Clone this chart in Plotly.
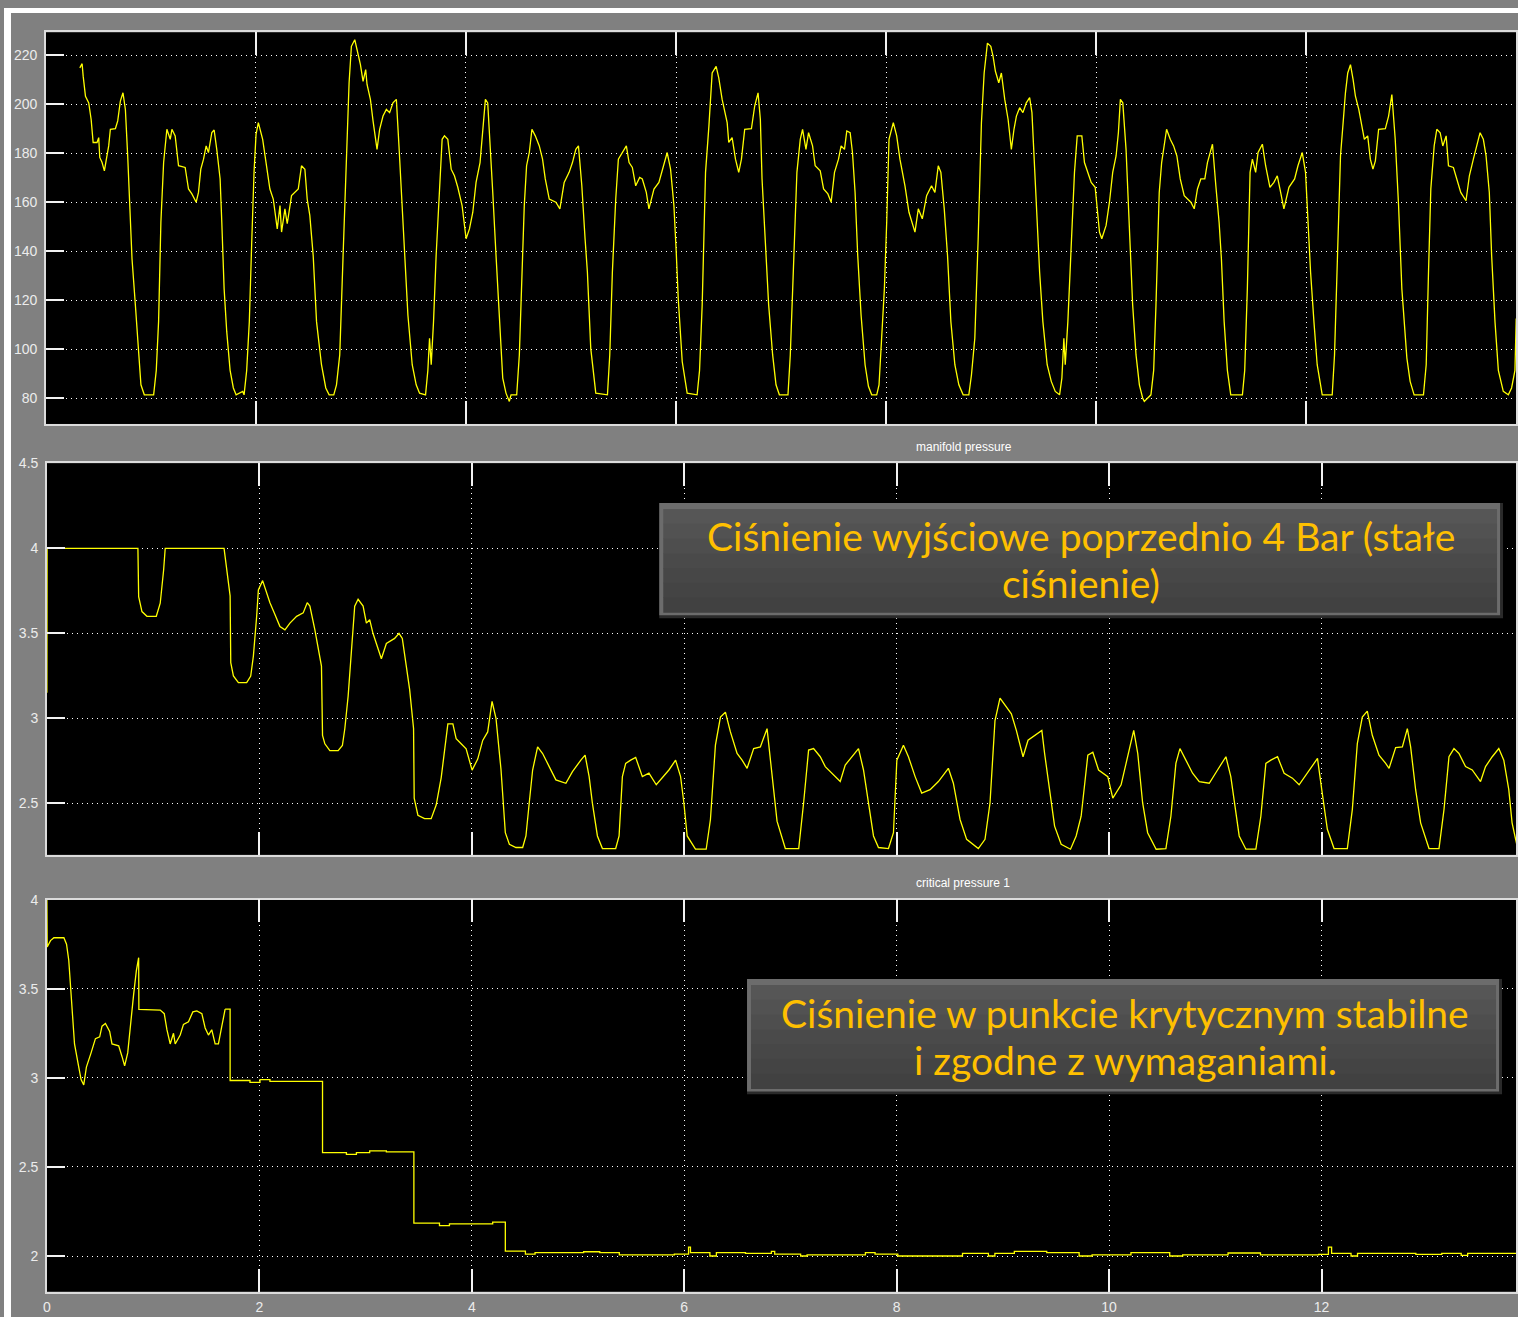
import plotly.graph_objects as go

W, H = 1518, 1317

# ---------------- data: panel 1 (top, unnamed scope signal) ----------------
top_t = [
    0.323, 0.345, 0.355, 0.377, 0.408, 0.431, 0.450, 0.487, 0.503, 0.513, 0.535, 0.557, 0.576, 0.598, 0.614, 0.662, 0.684, 0.709, 0.734, 0.757, 0.779, 0.804, 0.820, 0.852, 0.883, 0.905, 0.937, 1.026, 1.051, 1.073,
    1.095, 1.121, 1.152, 1.184, 1.200, 1.231, 1.263, 1.326, 1.358, 1.390, 1.431, 1.453, 1.475, 1.501, 1.526, 1.548, 1.580, 1.602, 1.627, 1.659, 1.675, 1.697, 1.722, 1.754, 1.785, 1.811, 1.874, 1.887, 1.912, 1.937,
    1.959, 1.982, 2.001, 2.023, 2.064, 2.102, 2.133, 2.165, 2.191, 2.203, 2.229, 2.244, 2.276, 2.298, 2.339, 2.371, 2.403, 2.434, 2.466, 2.488, 2.513, 2.545, 2.577, 2.624, 2.665, 2.697, 2.741, 2.767, 2.798, 2.830,
    2.862, 2.887, 2.909, 2.941, 2.963, 2.995, 3.020, 3.045, 3.058, 3.090, 3.115, 3.140, 3.153, 3.178, 3.210, 3.242, 3.273, 3.305, 3.337, 3.362, 3.393, 3.416, 3.447, 3.488, 3.526, 3.558, 3.615, 3.637, 3.653, 3.669,
    3.691, 3.716, 3.748, 3.773, 3.795, 3.827, 3.859, 3.890, 3.922, 3.963, 4.001, 4.033, 4.065, 4.096, 4.134, 4.160, 4.185, 4.207, 4.229, 4.255, 4.286, 4.318, 4.350,
    4.381, 4.413, 4.429, 4.483, 4.508, 4.533, 4.555, 4.577, 4.603, 4.628, 4.660, 4.698, 4.729, 4.755, 4.793, 4.856, 4.894, 4.935, 4.982, 5.014, 5.046, 5.071, 5.103, 5.134, 5.156, 5.188, 5.236, 5.347, 5.369, 5.394,
    5.426, 5.451, 5.489, 5.527, 5.553, 5.584, 5.616, 5.654, 5.679, 5.717, 5.742, 5.790, 5.837, 5.875, 5.916, 5.948, 5.980, 6.002, 6.021, 6.059, 6.106, 6.201, 6.224, 6.249, 6.281, 6.313, 6.344, 6.382, 6.407, 6.439,
    6.487, 6.502, 6.534, 6.566, 6.597, 6.623, 6.654, 6.718, 6.749, 6.781, 6.803, 6.819, 6.851, 6.882, 6.920, 6.952, 6.984, 7.066, 7.088, 7.120, 7.151, 7.183, 7.205, 7.237, 7.262, 7.300, 7.325, 7.373, 7.405, 7.446,
    7.477, 7.509, 7.547, 7.572, 7.604, 7.626, 7.658, 7.680, 7.705, 7.730, 7.762, 7.800, 7.832, 7.863, 7.911, 7.933, 7.959, 7.984, 8.006, 8.028, 8.069, 8.101, 8.132, 8.180, 8.218, 8.250, 8.275, 8.307, 8.345, 8.386,
    8.433, 8.465, 8.497, 8.522, 8.554, 8.585, 8.617, 8.655, 8.693, 8.734, 8.788, 8.813, 8.845, 8.877, 8.908, 8.934, 8.965, 8.997, 9.019, 9.041, 9.073, 9.098, 9.130, 9.162, 9.193,
    9.218, 9.241, 9.272, 9.303, 9.335, 9.367, 9.389, 9.408, 9.430, 9.462, 9.493, 9.534, 9.573, 9.611, 9.652, 9.674, 9.693, 9.706, 9.731, 9.763, 9.794, 9.820, 9.864, 9.889, 9.921, 9.953, 9.991, 10.010, 10.032, 10.054,
    10.095, 10.127, 10.158, 10.190, 10.212, 10.231, 10.254, 10.285, 10.317, 10.348, 10.380, 10.412, 10.443, 10.459, 10.522, 10.548, 10.570, 10.601, 10.624, 10.649, 10.671, 10.706, 10.738, 10.769, 10.801, 10.839, 10.902, 10.934, 10.965, 10.997,
    11.035, 11.060, 11.086, 11.108, 11.140, 11.171, 11.193, 11.219, 11.250, 11.282, 11.393, 11.415, 11.440, 11.466, 11.488, 11.519, 11.542, 11.583, 11.614, 11.655, 11.693, 11.725, 11.757, 11.788, 11.836, 11.890, 11.922, 11.963, 11.994, 12.017,
    12.042, 12.074, 12.105, 12.153, 12.248, 12.270, 12.295, 12.327, 12.352, 12.374, 12.396, 12.422, 12.447, 12.469, 12.501, 12.532, 12.554, 12.586, 12.611, 12.636, 12.659, 12.690, 12.754, 12.785, 12.816, 12.848, 12.880, 12.911, 12.959, 12.990,
    13.028, 13.117, 13.143, 13.165, 13.187, 13.219, 13.244, 13.276, 13.301, 13.333, 13.355, 13.402, 13.434, 13.472, 13.522, 13.554, 13.592, 13.624, 13.656, 13.687, 13.713, 13.744, 13.766, 13.798, 13.830, 13.877, 13.925, 13.956, 13.988, 14.0,
]
top_v = [
    214.9, 216.6, 211.5, 203.3, 200.6, 193.8, 184.4, 184.4, 186.4, 178.3, 176.2, 172.8, 177.6, 183.0, 189.8, 190.1, 193.2, 201.3, 204.7, 197.9, 178.9, 155.9, 136.9, 118.0, 97.6, 85.4, 81.3, 81.3, 91.3, 111.2,
    151.8, 176.2, 189.8, 185.7, 189.8, 187.1, 174.9, 174.2, 165.4, 163.4, 160.0, 164.0, 173.5, 177.6, 183.0, 180.3, 188.5, 189.5, 181.6, 169.5, 151.8, 124.7, 107.1, 91.3, 84.1, 81.3, 82.7, 81.3, 91.3, 111.2,
    142.3, 172.2, 187.7, 192.5, 185.7, 173.5, 165.4, 161.3, 153.2, 149.1, 158.6, 147.8, 157.3, 151.2, 162.7, 164.0, 165.4, 174.9, 173.5, 161.3, 154.6, 138.3, 111.2, 93.6, 84.1, 81.3, 81.3, 85.4, 97.6, 138.3,
    178.9, 208.8, 223.7, 226.4, 222.3, 216.2, 209.4, 214.2, 208.1, 202.0, 193.2, 185.7, 181.6, 189.8, 195.2, 197.9, 196.6, 200.6, 202.0, 183.0, 158.6, 136.9, 113.9, 93.6, 85.4, 82.0, 81.3, 91.3, 104.4, 93.6,
    111.2, 138.3, 165.4, 185.7, 187.1, 185.7, 173.5, 170.8, 166.1, 158.6, 145.1, 149.1, 155.9, 168.1, 176.2, 188.4, 202.0, 200.6, 185.7, 164.0, 138.3, 111.2, 88.1,
    82.0, 78.6, 81.3, 81.3, 97.6, 131.5, 158.6, 174.9, 180.3, 189.8, 187.1, 183.0, 177.6, 169.5, 161.3, 160.0, 157.3, 168.1, 172.2, 176.2, 181.6, 183.0, 166.7, 145.1, 131.5, 100.3, 82.0, 81.3, 97.6, 131.5,
    161.3, 177.6, 180.3, 183.0, 176.2, 174.2, 166.7, 170.1, 169.5, 164.0, 157.3, 165.4, 168.1, 173.5, 180.3, 173.5, 158.6, 139.6, 120.7, 94.9, 82.0, 81.3, 91.3, 118.0, 172.2, 191.1, 212.8, 215.5, 210.8, 202.0,
    192.5, 184.4, 186.4, 177.6, 172.2, 177.6, 189.8, 190.1, 199.3, 204.7, 193.8, 169.5, 145.1, 118.0, 97.6, 85.4, 81.3, 81.3, 97.6, 138.3, 172.2, 185.7, 189.8, 181.6, 188.4, 183.0, 174.9, 172.8, 165.4, 163.4,
    160.0, 172.2, 177.6, 183.0, 181.6, 189.1, 188.4, 180.3, 164.0, 138.3, 113.9, 93.6, 84.8, 81.3, 81.3, 85.4, 104.4, 124.7, 151.8, 185.7, 192.5, 187.1, 177.6, 166.7, 155.9, 151.8, 147.8, 157.3, 153.2, 162.7,
    166.7, 164.0, 174.9, 172.2, 157.3, 138.3, 111.2, 93.6, 85.4, 81.3, 81.3, 89.4, 104.4, 145.1, 192.5, 212.8, 225.0, 223.7, 219.6, 213.5, 208.8, 212.8, 202.0, 193.8, 181.6,
    189.8, 195.2, 198.6, 196.6, 200.6, 202.7, 196.6, 178.9, 158.6, 131.5, 111.2, 93.6, 86.8, 82.7, 81.3, 88.1, 104.4, 93.6, 111.2, 142.3, 172.2, 187.1, 187.1, 176.2, 172.2, 168.1, 166.1, 158.6, 147.8, 145.1,
    150.5, 160.0, 172.2, 178.9, 188.4, 202.0, 200.6, 181.6, 151.8, 118.0, 97.6, 85.4, 80.0, 78.6, 81.3, 91.3, 118.0, 164.0, 176.2, 183.0, 189.8, 185.7, 183.0, 178.9, 169.5, 162.7, 160.0, 157.3, 165.4, 169.5,
    169.5, 176.2, 180.3, 183.7, 166.7, 151.8, 136.9, 111.2, 91.3, 81.3, 81.3, 91.3, 124.7, 172.2, 177.6, 172.2, 180.3, 183.7, 174.9, 166.1, 168.1, 170.8, 164.0, 157.3, 166.1, 169.5, 174.9, 180.3, 172.2, 151.8,
    131.5, 111.2, 93.6, 81.3, 81.3, 97.6, 138.3, 178.9, 192.5, 204.7, 212.8, 216.2, 210.1, 203.3, 197.9, 191.1, 185.7, 187.1, 177.6, 173.5, 176.9, 189.8, 190.1, 195.2, 204.0, 185.7, 158.6, 124.7, 96.3, 86.8,
    81.3, 81.3, 93.6, 131.5, 165.4, 183.0, 189.8, 188.4, 183.0, 187.1, 174.9, 174.2, 169.5, 164.0, 160.6, 170.8, 177.6, 183.0, 188.4, 185.7, 178.9, 164.0, 138.3, 111.2, 91.3, 82.7, 81.3, 84.1, 91.3, 112.5,
]

# ---------------- data: panel 2 (manifold pressure) ----------------
mp_t = [
    0.0, 0.002, 0.857, 0.864, 0.895, 0.942, 1.030, 1.067, 1.099, 1.114,
    1.668, 1.693, 1.725, 1.731, 1.756, 1.803, 1.881, 1.919, 1.944, 1.975,
    1.991, 2.031, 2.069, 2.100, 2.147, 2.194, 2.241, 2.288, 2.351, 2.413,
    2.451, 2.476, 2.523, 2.554, 2.585, 2.595, 2.617, 2.664, 2.742, 2.782,
    2.805, 2.836, 2.867, 2.898, 2.930, 2.977, 3.008, 3.039, 3.070, 3.117,
    3.149, 3.196, 3.243, 3.274, 3.315, 3.346, 3.383, 3.415, 3.452, 3.458,
    3.493, 3.556, 3.618, 3.665, 3.712, 3.775, 3.822, 3.853, 3.900, 3.947,
    4.003, 4.056, 4.103, 4.150, 4.191, 4.228, 4.275, 4.316, 4.354, 4.416,
    4.479, 4.510, 4.541, 4.573, 4.620, 4.667, 4.729, 4.792, 4.886, 4.948,
    5.027, 5.067, 5.105, 5.136, 5.183, 5.230, 5.355, 5.387, 5.418, 5.449,
    5.496, 5.543, 5.606, 5.668, 5.737, 5.794, 5.856, 5.919, 5.966, 5.997,
    6.028, 6.106, 6.207, 6.247, 6.294, 6.341, 6.388, 6.435, 6.498, 6.545,
    6.592, 6.654, 6.717, 6.780, 6.827, 6.874, 6.952, 7.078, 7.124, 7.171,
    7.218, 7.281, 7.328, 7.390, 7.469, 7.516, 7.563, 7.641, 7.688, 7.735,
    7.782, 7.829, 7.923, 7.970, 8.002, 8.064, 8.111, 8.174, 8.236, 8.315,
    8.393, 8.487, 8.534, 8.597, 8.659, 8.769, 8.832, 8.879, 8.926, 8.973,
    9.020, 9.080, 9.127, 9.190, 9.237, 9.299, 9.367, 9.393, 9.440, 9.487,
    9.549, 9.637, 9.690, 9.737, 9.800, 9.847, 9.901, 9.988, 10.035, 10.113,
    10.160, 10.232, 10.270, 10.316, 10.363, 10.443, 10.535, 10.582, 10.629, 10.667,
    10.723, 10.786, 10.849, 10.943, 11.021, 11.100, 11.146, 11.178, 11.225, 11.288,
    11.382, 11.429, 11.476, 11.523, 11.586, 11.648, 11.726, 11.789, 11.883, 11.962,
    12.009, 12.055, 12.118, 12.243, 12.290, 12.337, 12.384, 12.431, 12.478, 12.541,
    12.604, 12.636, 12.698, 12.761, 12.808, 12.839, 12.886, 12.933, 13.012, 13.106,
    13.153, 13.200, 13.247, 13.294, 13.356, 13.419, 13.497, 13.544, 13.607, 13.669,
    13.716, 13.763, 13.794, 13.841,
]
mp_v = [
    3.15, 4.0, 4.0, 3.716, 3.628, 3.60, 3.60, 3.677, 3.872, 4.0,
    4.0, 3.87, 3.72, 3.327, 3.249, 3.21, 3.21, 3.249, 3.366, 3.60,
    3.755, 3.81, 3.73, 3.68, 3.61, 3.54, 3.52, 3.56, 3.60, 3.62,
    3.68, 3.66, 3.52, 3.424, 3.307, 2.90, 2.85, 2.81, 2.81, 2.84,
    2.94, 3.13, 3.42, 3.66, 3.70, 3.66, 3.56, 3.58, 3.50, 3.405,
    3.35, 3.44, 3.46, 3.47, 3.50, 3.47, 3.31, 3.17, 2.94, 2.53,
    2.43, 2.41, 2.41, 2.49, 2.65, 2.967, 2.967, 2.88, 2.85, 2.82,
    2.695, 2.76, 2.87, 2.92, 3.10, 3.0, 2.70, 2.327, 2.259, 2.24,
    2.24, 2.308, 2.502, 2.696, 2.832, 2.793, 2.716, 2.638, 2.618, 2.686,
    2.754, 2.783, 2.657, 2.50, 2.308, 2.234, 2.234, 2.308, 2.657, 2.735,
    2.754, 2.77, 2.657, 2.677, 2.609, 2.648, 2.696, 2.754, 2.657, 2.502,
    2.308, 2.23, 2.23, 2.405, 2.842, 3.007, 3.036, 2.92, 2.793, 2.754,
    2.706, 2.822, 2.832, 2.939, 2.657, 2.395, 2.234, 2.234, 2.502, 2.813,
    2.822, 2.774, 2.716, 2.677, 2.628, 2.725, 2.764, 2.822, 2.696, 2.502,
    2.308, 2.24, 2.234, 2.327, 2.754, 2.842, 2.774, 2.657, 2.56, 2.58,
    2.628, 2.706, 2.618, 2.405, 2.288, 2.234, 2.288, 2.502, 2.987, 3.119,
    3.075, 3.026, 2.929, 2.774, 2.871, 2.90, 2.929, 2.793, 2.58, 2.366,
    2.259, 2.23, 2.308, 2.424, 2.783, 2.80, 2.696, 2.657, 2.531, 2.609,
    2.735, 2.929, 2.793, 2.502, 2.327, 2.23, 2.234, 2.424, 2.735, 2.822,
    2.754, 2.677, 2.628, 2.618, 2.696, 2.774, 2.657, 2.502, 2.308, 2.23,
    2.23, 2.424, 2.735, 2.754, 2.774, 2.677, 2.648, 2.609, 2.696, 2.764,
    2.55, 2.347, 2.234, 2.234, 2.463, 2.851, 3.007, 3.042, 2.90, 2.783,
    2.735, 2.706, 2.828, 2.832, 2.939, 2.832, 2.58, 2.385, 2.234, 2.234,
    2.463, 2.774, 2.822, 2.793, 2.716, 2.696, 2.628, 2.716, 2.774, 2.822,
    2.754, 2.58, 2.385, 2.25,
]

# ---------------- data: panel 3 (critical pressure 1) ----------------
cp_t = [
    0.0, 0.003, 0.034, 0.066, 0.160, 0.185, 0.206, 0.238, 0.260, 0.300,
    0.322, 0.347, 0.372, 0.416, 0.457, 0.497, 0.519, 0.551, 0.591, 0.613,
    0.676, 0.707, 0.732, 0.761, 0.786, 0.817, 0.842, 0.864, 0.866, 0.973,
    1.067, 1.105, 1.130, 1.161, 1.192, 1.208, 1.255, 1.286, 1.333, 1.374,
    1.412, 1.459, 1.490, 1.521, 1.552, 1.584, 1.615, 1.646, 1.678,
]
cp_v = [
    4.0, 3.734, 3.77, 3.786, 3.786, 3.75, 3.66, 3.40, 3.19, 3.06,
    2.99, 2.96, 3.06, 3.14, 3.22, 3.23, 3.29, 3.305, 3.26, 3.19,
    3.18, 3.12, 3.067, 3.14, 3.305, 3.47, 3.60, 3.674, 3.384, 3.384,
    3.38, 3.36, 3.27, 3.19, 3.25, 3.19, 3.24, 3.30, 3.315, 3.37,
    3.376, 3.36, 3.28, 3.24, 3.27, 3.19, 3.19, 3.287, 3.385,
]
# stepped part (level start times and levels)
cp_step_t = [
    1.678, 1.725, 1.912, 2.006, 2.100, 2.595, 2.820, 2.914, 3.039, 3.196,
    3.455, 3.696, 3.790, 4.197, 4.316, 4.505, 4.596, 5.053, 5.205, 5.389,
    5.907, 6.041, 6.059, 6.242, 6.303, 6.577, 6.821, 6.852, 7.096, 7.157,
    7.706, 7.797, 8.011, 8.620, 8.864, 8.925, 9.108, 9.413, 9.718, 9.840,
    10.206, 10.571, 10.693, 11.120, 11.425, 11.974, 12.065, 12.095, 12.278, 12.339,
    12.888, 13.132, 13.315, 13.376, 13.851,
]
cp_step_v = [
    3.385, 2.985, 2.974, 2.99, 2.98, 2.58, 2.57, 2.58, 2.59, 2.585,
    2.185, 2.17, 2.18, 2.19, 2.028, 2.011, 2.019, 2.024, 2.019, 2.006,
    2.011, 2.05, 2.019, 2.0, 2.019, 2.015, 2.026, 2.011, 2.0, 2.006,
    2.019, 2.011, 2.0, 2.015, 2.0, 2.015, 2.026, 2.019, 2.0, 2.006,
    2.019, 2.0, 2.006, 2.017, 2.006, 2.009, 2.05, 2.015, 2.0, 2.015,
    2.009, 2.015, 2.004, 2.015, 2.015,
]

# ticks / labels
top_yticks = [80, 100, 120, 140, 160, 180, 200, 220]
mp_yticks = [2.5, 3.0, 3.5, 4.0, 4.5]
mp_yticktext = ["2.5", "3", "3.5", "4", "4.5"]
cp_yticks = [2.0, 2.5, 3.0, 3.5, 4.0]
cp_yticktext = ["2", "2.5", "3", "3.5", "4"]
top_xticks = [0, 2, 4, 6, 8, 10, 12, 14]
xticks = [0, 2, 4, 6, 8, 10, 12]
panel_titles = ["manifold pressure", "critical pressure 1"]
note1_lines = ["Ciśnienie wyjściowe poprzednio 4 Bar (stałe", "ciśnienie)"]
note2_lines = ["Ciśnienie w punkcie krytycznym stabilne", "i zgodne z wymaganiami."]

assert len(top_t) == len(top_v)
assert len(mp_t) == len(mp_v)
assert len(cp_t) == len(cp_v)
assert len(cp_step_t) == len(cp_step_v)

# ---------------- figure ----------------
def fx(p):
    return p / W

def fy(p):
    return 1 - p / H

YELLOW = "#ffff00"
LW = 1.3
NARROW = "Liberation Sans Narrow, Liberation Sans, Arial, sans-serif"
NOTE_FONT = "Lato, Open Sans, sans-serif"

fig = go.Figure()
fig.add_trace(go.Scatter(x=top_t, y=top_v, mode="lines", line=dict(color=YELLOW, width=LW),
                         xaxis="x", yaxis="y", showlegend=False, hoverinfo="skip"))
fig.add_trace(go.Scatter(x=mp_t, y=mp_v, mode="lines", line=dict(color=YELLOW, width=LW),
                         xaxis="x2", yaxis="y2", showlegend=False, hoverinfo="skip"))
fig.add_trace(go.Scatter(x=cp_t, y=cp_v, mode="lines", line=dict(color=YELLOW, width=LW),
                         xaxis="x3", yaxis="y3", showlegend=False, hoverinfo="skip"))
fig.add_trace(go.Scatter(x=cp_step_t, y=cp_step_v, mode="lines", line=dict(color=YELLOW, width=LW, shape="hv"),
                         xaxis="x3", yaxis="y3", showlegend=False, hoverinfo="skip"))

RIGHT = 1516
panels = [
    # (x0px, x1px, y0px(top), y1px(bottom))
    (42, RIGHT, 24.5, 418.5),
    (43, RIGHT, 458, 852),
    (43, RIGHT, 897, 1291.5),
]

def axis_common():
    return dict(
        showline=True, linecolor="#dcdcdc", linewidth=1.5,
        ticks="inside", tickcolor="#f2f2f2", tickwidth=1.5,
        showgrid=True, gridcolor="#ffffff", gridwidth=1, griddash="1px,4px",
        zeroline=False, tickfont=dict(family=NARROW, size=14, color="#ececec"),
        fixedrange=True,
    )

layout = dict(
    width=W, height=H,
    margin=dict(l=0, r=0, t=0, b=0),
    paper_bgcolor="#808080", plot_bgcolor="#000000",
    showlegend=False,
)

# visible time spans follow the original grid spacing (2 s = 210.6 px on top, 213 px below)
xranges = [[0, (RIGHT - 42) / 105.3], [0, (RIGHT - 43) / 106.5], [0, (RIGHT - 43) / 106.5]]
yranges = [[69.4, 229.4], [2.197, 4.5005], [1.8, 4.0005]]
ytv = [top_yticks, mp_yticks, cp_yticks]
ytt = [[str(v) for v in top_yticks], mp_yticktext, cp_yticktext]
xtv = [top_xticks, xticks, xticks]

for i, (x0, x1, y0, y1) in enumerate(panels):
    sx = "" if i == 0 else str(i + 1)
    xa = axis_common()
    xa.update(domain=[fx(x0), fx(x1)], range=xranges[i], anchor="y" + sx,
              tickvals=xtv[i], ticktext=[str(v) for v in xtv[i]], ticklen=23,
              mirror="ticks", showticklabels=(i == 2), ticklabelstandoff=2)
    ya = axis_common()
    ya.update(domain=[fy(y1), fy(y0)], range=yranges[i], anchor="x" + sx,
              tickvals=ytv[i], ticktext=ytt[i], ticklen=18, mirror=True,
              ticklabelstandoff=4)
    layout["xaxis" + sx] = xa
    layout["yaxis" + sx] = ya

fig.update_layout(**layout)

shapes = []
# white page margins (left and top) as in the screenshot
shapes.append(dict(type="rect", xref="paper", yref="paper", x0=0, x1=fx(7), y0=0, y1=1,
                   fillcolor="white", line=dict(width=0), layer="above"))
shapes.append(dict(type="rect", xref="paper", yref="paper", x0=0, x1=1, y0=fy(5), y1=1,
                   fillcolor="white", line=dict(width=0), layer="above"))

def note_box(x0, x1, y0, y1):
    out = []
    out.append(dict(type="rect", xref="paper", yref="paper", x0=fx(x0), x1=fx(x1), y0=fy(y1), y1=fy(y0),
                    fillcolor="#2a2a2a", line=dict(width=0), layer="above"))
    out.append(dict(type="rect", xref="paper", yref="paper", x0=fx(x0), x1=fx(x1 - 3), y0=fy(y1 - 3), y1=fy(y0),
                    fillcolor="#6c6c6c", line=dict(width=0), layer="above"))
    body = ["#565656", "#525252", "#4e4e4e", "#4a4a4a", "#474747", "#444444", "#414141"]
    bx0, bx1, by0, by1 = x0 + 4, x1 - 6, y0 + 6, y1 - 6
    n = len(body)
    hstep = (by1 - by0) / n
    for k, c in enumerate(body):
        out.append(dict(type="rect", xref="paper", yref="paper", x0=fx(bx0), x1=fx(bx1),
                        y0=fy(by0 + (k + 1) * hstep + 0.5), y1=fy(by0 + k * hstep),
                        fillcolor=c, line=dict(width=0), layer="above"))
    return out

shapes += note_box(657, 1503, 498, 614) + note_box(745, 1502, 977, 1093)

annotations = [
    dict(text=panel_titles[0], xref="paper", yref="paper", x=fx(963), y=fy(442), showarrow=False,
         xanchor="center", yanchor="middle", font=dict(family=NARROW, size=12, color="#ffffff")),
    dict(text=panel_titles[1], xref="paper", yref="paper", x=fx(962), y=fy(880), showarrow=False,
         xanchor="center", yanchor="middle", font=dict(family=NARROW, size=12, color="#ffffff")),
]
note_pos = [(note1_lines, 1080, [531, 579]), (note2_lines, 1124, [1011, 1058])]
for lines, cx, ys in note_pos:
    for line, yy in zip(lines, ys):
        annotations.append(dict(text=line, xref="paper", yref="paper", x=fx(cx), y=fy(yy), showarrow=False,
                                xanchor="center", yanchor="middle",
                                font=dict(family=NOTE_FONT, size=39, color="#ffc000")))

fig.update_layout(shapes=shapes, annotations=annotations)
fig.write_html("out.html")
